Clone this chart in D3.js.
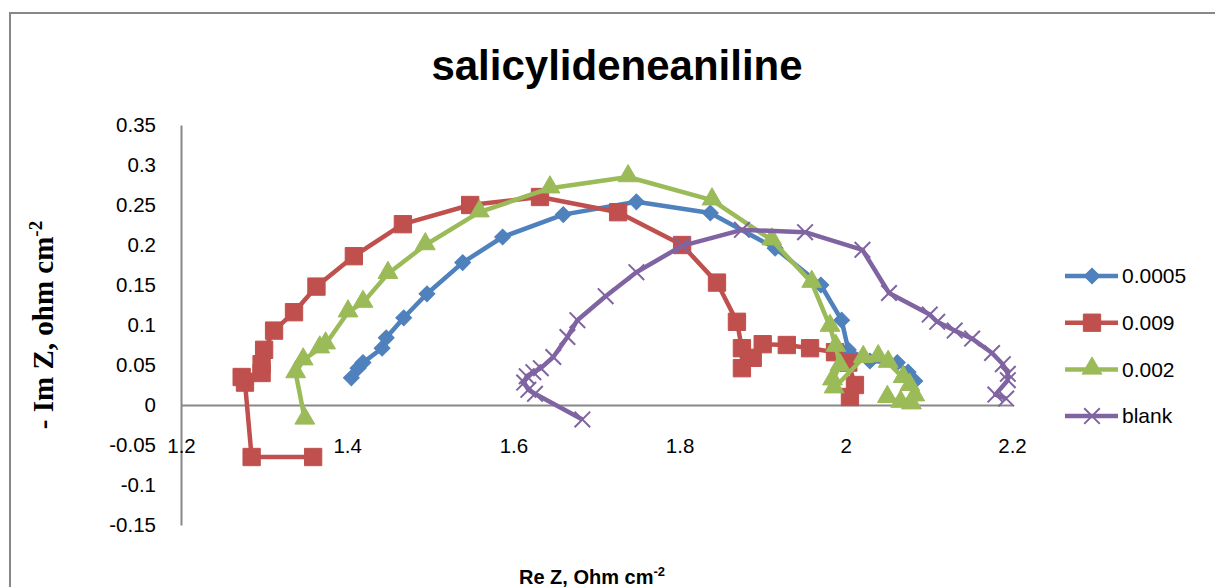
<!DOCTYPE html>
<html lang="en">
<head>
    <meta charset="UTF-8">
    <title>salicylideneaniline</title>
    <style>
        body { margin: 0; background: #fff; }
        svg { display: block; }
    </style>
</head>
<body>
    <script src="https://d3js.org/d3.v7.min.js"></script>
    <script>
        // Nyquist data (Re Z, -Im Z)
        let re0005 = [1.405, 1.413, 1.419, 1.442, 1.447, 1.468, 1.496, 1.539, 1.587, 1.660, 1.748, 1.837, 1.915, 1.970, 1.995, 2.003, 2.029, 2.062, 2.075, 2.083];
        let im0005 = [0.034, 0.046, 0.053, 0.071, 0.084, 0.109, 0.139, 0.178, 0.210, 0.238, 0.254, 0.240, 0.196, 0.150, 0.106, 0.069, 0.055, 0.053, 0.041, 0.030];

        let re009 = [1.359, 1.285, 1.277, 1.273, 1.297, 1.297, 1.300, 1.312, 1.336, 1.363, 1.408, 1.467, 1.548, 1.632, 1.726, 1.803, 1.845, 1.869, 1.875, 1.875, 1.888, 1.900, 1.929, 1.957, 1.987, 2.003, 2.011, 2.005];
        let im009 = [-0.065, -0.065, 0.028, 0.035, 0.040, 0.051, 0.069, 0.093, 0.116, 0.148, 0.186, 0.226, 0.250, 0.260, 0.241, 0.200, 0.153, 0.104, 0.071, 0.046, 0.059, 0.076, 0.075, 0.071, 0.066, 0.053, 0.025, 0.010];

        let re002 = [1.349, 1.338, 1.347, 1.367, 1.374, 1.401, 1.419, 1.449, 1.494, 1.559, 1.644, 1.738, 1.839, 1.911, 1.959, 1.981, 1.988, 1.993, 1.984, 1.986, 2.021, 2.039, 2.051, 2.069, 2.077, 2.083, 2.066, 2.050, 2.079];
        let im002 = [-0.018, 0.040, 0.056, 0.071, 0.076, 0.116, 0.128, 0.164, 0.200, 0.241, 0.271, 0.285, 0.256, 0.206, 0.153, 0.098, 0.073, 0.049, 0.031, 0.021, 0.059, 0.060, 0.053, 0.034, 0.024, 0.011, 0.003, 0.009, 0.001];

        let reBlank = [1.683, 1.626, 1.618, 1.613, 1.616, 1.624, 1.633, 1.648, 1.665, 1.677, 1.711, 1.748, 1.803, 1.875, 1.951, 2.020, 2.052, 2.101, 2.110, 2.131, 2.152, 2.176, 2.189, 2.195, 2.195, 2.180, 2.193];
        let imBlank = [-0.018, 0.014, 0.019, 0.028, 0.036, 0.041, 0.046, 0.060, 0.085, 0.106, 0.136, 0.166, 0.199, 0.219, 0.216, 0.194, 0.140, 0.113, 0.104, 0.093, 0.083, 0.065, 0.051, 0.039, 0.031, 0.013, 0.008];

        let seriesNames = ["0.0005", "0.009", "0.002", "blank"];
        let xTicks = [1.2, 1.4, 1.6, 1.8, 2.0, 2.2];
        let yTicks = [-0.15, -0.1, -0.05, 0, 0.05, 0.1, 0.15, 0.2, 0.25, 0.3, 0.35];

        let series = [
            { name: seriesNames[0], re: re0005, im: im0005, color: "#4F81BD", shape: "diamond" },
            { name: seriesNames[1], re: re009, im: im009, color: "#C0504D", shape: "square" },
            { name: seriesNames[2], re: re002, im: im002, color: "#9BBB59", shape: "triangle" },
            { name: seriesNames[3], re: reBlank, im: imBlank, color: "#8064A2", shape: "x" }
        ];

        let svgWidth = 1215;
        let svgHeight = 587;

        let svg = d3.select("body")
            .append("svg")
            .attr("width", svgWidth)
            .attr("height", svgHeight);

        // outer chart border (runs off the right and bottom)
        svg.append("rect")
            .attr("x", 10)
            .attr("y", 13)
            .attr("width", 1230)
            .attr("height", 600)
            .attr("fill", "none")
            .attr("stroke", "#878787")
            .attr("stroke-width", 2);

        let xScale = d3.scaleLinear().domain([1.2, 2.2]).range([181, 1012]);
        let yScale = d3.scaleLinear().domain([-0.15, 0.35]).range([525, 125]);

        let fmt = d => String(+d.toFixed(2));
        let tickFont = "'Liberation Sans', Arial, sans-serif";

        // y axis
        let yAxis = svg.append("g")
            .attr("transform", `translate(${xScale(1.2)},0)`)
            .call(d3.axisLeft(yScale).tickValues(yTicks).tickFormat(fmt).tickSize(0).tickPadding(25));

        // x axis through zero
        let xAxis = svg.append("g")
            .attr("transform", `translate(0,${yScale(0)})`)
            .call(d3.axisBottom(xScale).tickValues(xTicks).tickFormat(fmt).tickSize(0).tickPadding(33));

        [xAxis, yAxis].forEach(function(a) {
            a.select(".domain").attr("stroke", "#878787").attr("stroke-width", 2);
            a.selectAll("text")
                .attr("fill", "#000")
                .style("font-family", tickFont)
                .style("font-size", "20.5px");
        });

        function markerPath(shape) {
            if (shape === "diamond") return d3.symbol(d3.symbolSquare, 125)();
            if (shape === "square") return d3.symbol(d3.symbolSquare, 300)();
            if (shape === "triangle") return d3.symbol(d3.symbolTriangle, 170)();
            return d3.symbol(d3.symbolTimes, 160)();
        }

        let line = d3.line()
            .x(d => xScale(d[0]))
            .y(d => yScale(d[1]));

        series.forEach(function(s) {
            let pts = s.re.map((r, i) => [r, s.im[i]]);
            let g = svg.append("g");
            g.append("path")
                .datum(pts)
                .attr("d", line)
                .attr("fill", "none")
                .attr("stroke", s.color)
                .attr("stroke-width", 4.5)
                .attr("stroke-linejoin", "round");
            g.selectAll("path.mk")
                .data(pts)
                .enter()
                .append("path")
                .attr("class", "mk")
                .attr("d", markerPath(s.shape))
                .attr("transform", d => `translate(${xScale(d[0])},${yScale(d[1])})` + (s.shape === "diamond" ? " rotate(45)" : "") + (s.shape === "triangle" ? " translate(0,-1)" : ""))
                .attr("fill", s.shape === "x" ? "none" : s.color)
                .attr("stroke", s.color)
                .attr("stroke-width", s.shape === "x" ? 2 : 1);
        });

        // legend
        let legend = svg.append("g");
        series.forEach(function(s, i) {
            let ly = 276 + i * 46.7;
            legend.append("line")
                .attr("x1", 1065).attr("x2", 1118)
                .attr("y1", ly).attr("y2", ly)
                .attr("stroke", s.color)
                .attr("stroke-width", 4.5);
            legend.append("path")
                .attr("d", markerPath(s.shape))
                .attr("transform", `translate(1092,${ly})` + (s.shape === "diamond" ? " rotate(45)" : "") + (s.shape === "triangle" ? " translate(0,-1)" : ""))
                .attr("fill", s.shape === "x" ? "none" : s.color)
                .attr("stroke", s.color)
                .attr("stroke-width", s.shape === "x" ? 2 : 1);
            legend.append("text")
                .attr("x", 1122)
                .attr("y", ly)
                .attr("dy", "0.35em")
                .style("font-family", tickFont)
                .style("font-size", "21px")
                .text(s.name);
        });

        // title
        svg.append("text")
            .attr("x", 617)
            .attr("y", 80)
            .attr("text-anchor", "middle")
            .style("font-family", tickFont)
            .style("font-weight", "bold")
            .style("font-size", "42px")
            .text("salicylideneaniline");

        // x axis title
        let xt = svg.append("text")
            .attr("x", 592)
            .attr("y", 584)
            .attr("text-anchor", "middle")
            .style("font-family", tickFont)
            .style("font-weight", "bold")
            .style("font-size", "20px");
        xt.append("tspan").text("Re Z, Ohm cm");
        xt.append("tspan").attr("dy", -8).style("font-size", "13px").text("-2");

        // y axis title
        let yt = svg.append("text")
            .attr("transform", "translate(53,325) rotate(-90)")
            .attr("text-anchor", "middle")
            .style("font-family", "'Liberation Serif', 'Times New Roman', serif")
            .style("font-weight", "bold")
            .style("font-size", "29px");
        yt.append("tspan").text("- Im Z, ohm cm");
        yt.append("tspan").attr("dy", -11).style("font-size", "19px").text("-2");
    </script>
</body>
</html>
